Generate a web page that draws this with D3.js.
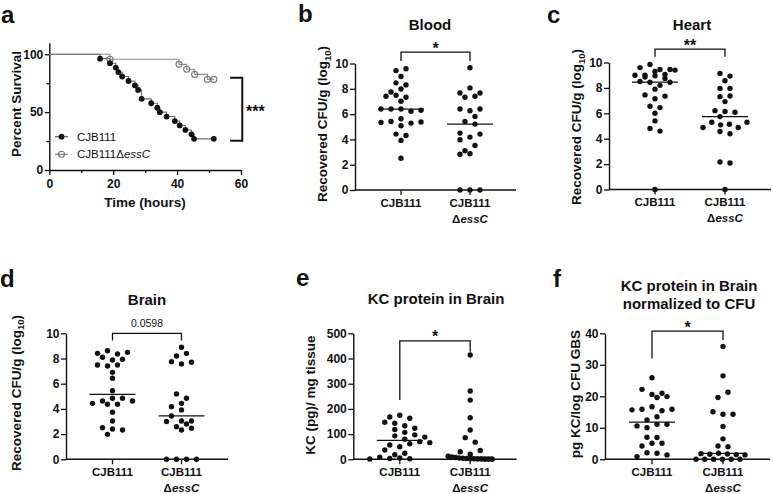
<!DOCTYPE html>
<html><head><meta charset="utf-8">
<script src="https://cdn.jsdelivr.net/npm/d3@7"></script>
<style>
body{margin:0;background:#fff}
svg{display:block}
text{font-family:"Liberation Sans",Arial,Helvetica,sans-serif;fill:#111}
</style>
</head><body>
<svg id="c" width="773" height="494"></svg>
<script>
// ---------------- DATA ----------------
const cats = ['CJB111', 'CJB111 ΔessC'];

// Panel a: Kaplan-Meier survival
const survWtTime = [0, 15.9, 19, 20.8, 21.6, 22.8, 24.8, 26.8, 27.8, 28.9, 31.9, 33.8, 34.6, 36.7, 39.3, 40.8, 42.6, 44.5, 45.3, 51.5];
const survWtPct  = [100, 96.2, 92.3, 88.5, 84.6, 80.8, 76.9, 73.1, 69.2, 61.5, 57.7, 53.8, 50.0, 46.2, 42.3, 38.5, 34.6, 30.8, 26.9, 26.9];
const survMutTime = [0, 19, 40.6, 43, 45.5, 49.5, 51.5];
const survMutPct  = [100, 95.7, 91.3, 87.0, 82.6, 78.3, 78.3];
const survTicksX = [0, 10, 20, 30, 40, 50, 60];
const survTicksY = [0, 25, 50, 75, 100];

// Panel b: Blood CFU (log10)
const bloodWt  = [9.44, 9.58, 8.97, 8.47, 8.31, 7.75, 7.99, 7.41, 7.49, 7.33, 7.01, 6.4, 6.4, 6.4, 6.22, 6.3, 5.34, 5.42, 5.63, 5.29, 5.37, 5.08, 4.42, 4.31, 3.92, 2.51];
const bloodMut = [9.66, 7.67, 8.07, 7.67, 7.33, 7.41, 6.4, 6.27, 6.4, 5.42, 5.82, 5.21, 4.5, 4.18, 4.42, 3.97, 3.1, 3.52, 2.83, 2.86, 0, 0, 0];

// Panel c: Heart CFU (log10)
const heartWt  = [9.6, 9.84, 9.45, 9.45, 9.0, 9.0, 9.3, 9.05, 9.4, 8.85, 8.95, 8.75, 8.5, 8.45, 8.2, 8.45, 7.9, 7.45, 7.15, 7.35, 6.55, 6.45, 6.0, 5.4, 4.8, 4.6, 0];
const heartMut = [9.14, 8.93, 8.56, 7.96, 7.96, 7.31, 7.36, 6.92, 6.21, 6.14, 6.08, 5.74, 4.88, 5.3, 5.09, 5.14, 4.88, 5.3, 4.57, 4.39, 2.17, 2.09, 0];

// Panel d: Brain CFU (log10)
const brainWt  = [8.41, 8.62, 8.36, 8.49, 8.1, 7.88, 7.94, 7.49, 7.41, 7.49, 6.9, 6.43, 5.45, 4.44, 4.63, 4.84, 4.84, 4.63, 4.37, 4.37, 3.73, 3.04, 2.51, 2.41, 2.33, 1.98];
const brainMut = [8.89, 8.2, 8.41, 7.75, 7.57, 7.7, 5.19, 4.84, 4.18, 4.44, 3.92, 3.44, 3.04, 3.0, 3.04, 2.59, 2.33, 2.46, 2.8, 0, 0, 0, 0];

// Panel e: KC pg / mg tissue
const kcWt  = [168, 175, 163, 147, 143, 133, 118, 107, 123, 93, 80, 97, 88, 57, 50, 62, 70, 66, 37, 18, 24, 1, 8, 3, 5, 2];
const kcMut = [414, 271, 235, 165, 116, 86, 68, 30, 20, 35, 12, 9, 7, 5, 4, 3, 2, 2, 1, 1, 0, 0, 0];

// Panel f: pg KC / log CFU GBS
const normWt  = [25.9, 22.2, 20.6, 20.95, 19.6, 19.9, 15.7, 15.9, 16.7, 15.4, 15.9, 12.5, 13.5, 10.6, 10.05, 11.1, 11.1, 7.0, 6.9, 4.2, 5.1, 5.1, 0.85, 2.1, 1.9, 1.4];
const normMut = [35.8, 26.5, 19.6, 21.3, 15.1, 14.3, 14.3, 10.4, 6.5, 4.2, 4.0, 1.8, 1.6, 1.9, 1.7, 1.5, 1.4, 0, 0, 0, 0, 0, 0];

// ---------------- DRAW ----------------
const svg = d3.select('#c');
const INK = '#111';

function letter(ch, x, y) {
  svg.append('text').attr('x', x).attr('y', y).attr('font-size', 24).attr('font-weight', 'bold').text(ch);
}

function styleAxis(g) {
  g.select('.domain').attr('stroke', INK).attr('stroke-width', 1.4);
  g.selectAll('.tick line').attr('stroke', INK).attr('stroke-width', 1.3);
  g.selectAll('.tick text').attr('font-size', 12).attr('font-weight', 'bold')
    .attr('font-family', '"Liberation Sans",Arial,sans-serif').attr('fill', INK);
}

function yLabel(parts, x, y) {
  const t = svg.append('text').attr('transform', `translate(${x},${y}) rotate(-90)`)
    .attr('text-anchor', 'middle').attr('font-size', 13.5).attr('font-weight', 'bold');
  parts(t);
}

function swarmOffsets(values, y, maxHalf, r) {
  const vth = 5.5, base = 10;
  const idx = values.map((v, i) => i).sort((a, b) => values[b] - values[a] || a - b);
  const groups = []; let cur = null;
  idx.forEach(i => {
    if (cur && Math.abs(y(values[cur[0]]) - y(values[i])) < vth) cur.push(i);
    else { cur = [i]; groups.push(cur); }
  });
  const off = new Array(values.length).fill(0);
  const placed = [];
  groups.forEach(g => {
    const mem = g.slice().sort((a, b) => a - b);
    const n = mem.length;
    const s = n > 1 ? Math.min(base, 2 * maxHalf / (n - 1)) : 0;
    const pos = mem.map((i, k) => (k - (n - 1) / 2) * s);
    let best = 0;
    for (const sh of [0, -5, 5, -10, 10]) {
      const ok = mem.every((i, k) => placed.every(p => Math.hypot(p.x - (pos[k] + sh), p.y - y(values[i])) >= 2 * r + 0.4));
      if (ok) { best = sh; break; }
    }
    mem.forEach((i, k) => { off[i] = pos[k] + best; placed.push({ x: off[i], y: y(values[i]) }); });
  });
  return off;
}

// ---- Panel a ----
(function () {
  letter('a', 1, 22.5);
  const x = d3.scaleLinear().domain([0, 60]).range([49.3, 241]);
  const y = d3.scaleLinear().domain([0, 110]).range([170, 42.7]);
  const gx = svg.append('g').attr('transform', 'translate(0,170)')
    .call(d3.axisBottom(x).tickValues(survTicksX).tickSize(5).tickPadding(4).tickSizeOuter(0)
      .tickFormat(d => d % 20 === 0 ? d : ''));
  styleAxis(gx);
  gx.selectAll('.tick line').filter(d => d % 20 !== 0).attr('y2', 3);
  const gy = svg.append('g').attr('transform', 'translate(49.3,0)')
    .call(d3.axisLeft(y).tickValues(survTicksY).tickSize(4.5).tickPadding(1.5).tickSizeOuter(0)
      .tickFormat(d => d % 50 === 0 ? d : ''));
  styleAxis(gy);
  gy.selectAll('.tick line').filter(d => d % 50 !== 0).attr('x2', -3);

  const line = d3.line().curve(d3.curveStepAfter).x(d => x(d[0])).y(d => y(d[1]));
  const wt = survWtTime.map((t, i) => [t, survWtPct[i]]);
  const mut = survMutTime.map((t, i) => [t, survMutPct[i]]);
  svg.append('path').attr('d', line(mut)).attr('fill', 'none').attr('stroke', '#8c8c8c').attr('stroke-width', 1.1);
  svg.append('path').attr('d', line(wt)).attr('fill', 'none').attr('stroke', '#6e6e6e').attr('stroke-width', 1.1);
  svg.append('g').selectAll('circle').data(mut.slice(1)).join('circle')
    .attr('cx', d => x(d[0])).attr('cy', d => y(d[1])).attr('r', 3)
    .attr('fill', 'none').attr('stroke', '#777').attr('stroke-width', 1.1);
  svg.append('g').selectAll('circle').data(wt.slice(1)).join('circle')
    .attr('cx', d => x(d[0])).attr('cy', d => y(d[1])).attr('r', 2.9).attr('fill', INK);

  // legend
  const lg = svg.append('g');
  lg.append('line').attr('x1', 55).attr('x2', 68).attr('y1', 136.7).attr('y2', 136.7).attr('stroke', '#555').attr('stroke-width', 1.1);
  lg.append('circle').attr('cx', 61.5).attr('cy', 136.7).attr('r', 2.9).attr('fill', INK);
  lg.append('text').attr('x', 77).attr('y', 140.8).attr('font-size', 11.5).text(cats[0]);
  lg.append('line').attr('x1', 55).attr('x2', 68).attr('y1', 154.3).attr('y2', 154.3).attr('stroke', '#777').attr('stroke-width', 1.1);
  lg.append('circle').attr('cx', 61.5).attr('cy', 154.3).attr('r', 3).attr('fill', 'none').attr('stroke', '#777').attr('stroke-width', 1.1);
  const lt = lg.append('text').attr('x', 77).attr('y', 158.4).attr('font-size', 11.5);
  lt.append('tspan').text('CJB111Δ');
  lt.append('tspan').attr('font-style', 'italic').text('essC');

  // significance bracket
  svg.append('path')
    .attr('d', `M${x(56.6)},${y(79.8)}H${x(60.4)}V${y(25.3)}H${x(56.6)}`)
    .attr('fill', 'none').attr('stroke', INK).attr('stroke-width', 2);
  svg.append('text').attr('x', 246).attr('y', 117).attr('font-size', 16).attr('font-weight', 'bold').text('***');

  yLabel(t => t.text('Percent Survival'), 21, 104);
  svg.append('text').attr('x', 145).attr('y', 207).attr('text-anchor', 'middle')
    .attr('font-size', 13.5).attr('font-weight', 'bold').text('Time (hours)');
})();

// ---- scatter panels ----
function cfuLabel(t) {
  t.append('tspan').text('Recovered CFU/g (log');
  t.append('tspan').attr('dy', 3.5).attr('font-size', 9.5).text('10');
  t.append('tspan').attr('dy', -3.5).text(')');
}

const panels = [
  { letter: 'b', lx: 298, ly: 22, title: ['Blood'], tx: 430, ty: [30],
    x0: 355, x1: 516, off: 46, yTop: 63.5, yBot: 190, domain: [0, 10], ticks: [0, 2, 4, 6, 8, 10],
    label: cfuLabel, labX: 327, labY: 124, data: [bloodWt, bloodMut],
    br: { top: 10.9, l: 10.2, r: 10.2, text: '*', bold: true } },
  { letter: 'c', lx: 547, ly: 23, title: ['Heart'], tx: 692, ty: [30],
    x0: 609, x1: 771, off: 46, yTop: 62.5, yBot: 189.5, domain: [0, 10], ticks: [0, 2, 4, 6, 8, 10],
    label: cfuLabel, labX: 581, labY: 127, data: [heartWt, heartMut],
    br: { top: 11.06, l: 10.45, r: 10.45, text: '**', bold: true } },
  { letter: 'd', lx: 0, ly: 287, title: ['Brain'], tx: 147, ty: [305],
    x0: 66, x1: 228, off: 46.5, yTop: 333.3, yBot: 459.3, domain: [0, 10], ticks: [0, 2, 4, 6, 8, 10],
    label: cfuLabel, labX: 20.5, labY: 393, data: [brainWt, brainMut],
    br: { top: 10.0, l: 9.42, r: 9.42, text: '0.0598', bold: false } },
  { letter: 'e', lx: 296, ly: 286, title: ['KC protein in Brain'], tx: 436, ty: [303.5],
    x0: 353.3, x1: 516.7, off: 46.5, yTop: 333.3, yBot: 459.3, domain: [0, 500], ticks: [0, 100, 200, 300, 400, 500],
    label: t => t.text('KC (pg)/ mg tissue'), labX: 315, labY: 395, data: [kcWt, kcMut],
    br: { top: 470, l: 235, r: 427, text: '*', bold: true } },
  { letter: 'f', lx: 553, ly: 287, title: ['KC protein in Brain', 'normalized to CFU'], tx: 689, ty: [290.5, 309],
    x0: 605, x1: 770, off: 47, yTop: 333.3, yBot: 459.3, domain: [0, 40], ticks: [0, 10, 20, 30, 40],
    label: t => t.text('pg KC/log CFU GBS'), labX: 580, labY: 394, data: [normWt, normMut],
    br: { top: 40.7, l: 32, r: 37.9, text: '*', bold: true } }
];

panels.forEach(p => {
  letter(p.letter, p.lx, p.ly);
  p.title.forEach((s, i) => svg.append('text').attr('x', p.tx).attr('y', p.ty[i]).attr('text-anchor', 'middle')
    .attr('font-size', 15).attr('font-weight', 'bold').text(s));

  const x = d3.scalePoint().domain(cats).range([p.x0 + p.off, p.x1 - p.off]);
  const y = d3.scaleLinear().domain(p.domain).range([p.yBot, p.yTop]);

  const gy = svg.append('g').attr('transform', `translate(${p.x0},0)`)
    .call(d3.axisLeft(y).tickValues(p.ticks).tickSize(5).tickPadding(1.5).tickSizeOuter(0));
  styleAxis(gy);

  // x axis
  svg.append('line').attr('x1', p.x0).attr('x2', p.x1).attr('y1', p.yBot).attr('y2', p.yBot)
    .attr('stroke', INK).attr('stroke-width', 1.4);
  cats.forEach(c => {
    svg.append('line').attr('x1', x(c)).attr('x2', x(c)).attr('y1', p.yBot).attr('y2', p.yBot + 5)
      .attr('stroke', INK).attr('stroke-width', 1.3);
    const words = c.split(' ');
    svg.append('text').attr('x', x(c)).attr('y', p.yBot + 16.5).attr('text-anchor', 'middle')
      .attr('font-size', 11.5).attr('font-weight', 'bold').text(words[0]);
    if (words[1]) {
      const t = svg.append('text').attr('x', x(c)).attr('y', p.yBot + 32.5).attr('text-anchor', 'middle')
        .attr('font-size', 11.5).attr('font-weight', 'bold');
      t.append('tspan').text(words[1].slice(0, 1));
      t.append('tspan').attr('font-style', 'italic').text(words[1].slice(1));
    }
  });

  // dots + median
  const r = 2.7;
  p.data.forEach((vals, gi) => {
    const cx = x(cats[gi]);
    const offs = swarmOffsets(vals, y, 22, r);
    svg.append('g').selectAll('circle').data(vals).join('circle')
      .attr('cx', (d, i) => cx + offs[i]).attr('cy', d => y(d)).attr('r', r).attr('fill', INK);
    const med = d3.median(vals);
    svg.append('line').attr('x1', cx - 23).attr('x2', cx + 23).attr('y1', y(med)).attr('y2', y(med))
      .attr('stroke', INK).attr('stroke-width', 1.3);
  });

  // bracket
  const xa = x(cats[0]), xb = x(cats[1]);
  svg.append('path').attr('d', `M${xa},${y(p.br.l)}V${y(p.br.top)}H${xb}V${y(p.br.r)}`)
    .attr('fill', 'none').attr('stroke', INK).attr('stroke-width', 1.3);
  if (p.br.bold) {
    svg.append('text').attr('x', (xa + xb) / 2).attr('y', y(p.br.top) + 1.5).attr('text-anchor', 'middle')
      .attr('font-size', 16).attr('font-weight', 'bold').text(p.br.text);
  } else {
    svg.append('text').attr('x', (xa + xb) / 2).attr('y', y(p.br.top) - 6).attr('text-anchor', 'middle')
      .attr('font-size', 10.5).text(p.br.text);
  }

  yLabel(p.label, p.labX, p.labY);
});
</script>
</body></html>
